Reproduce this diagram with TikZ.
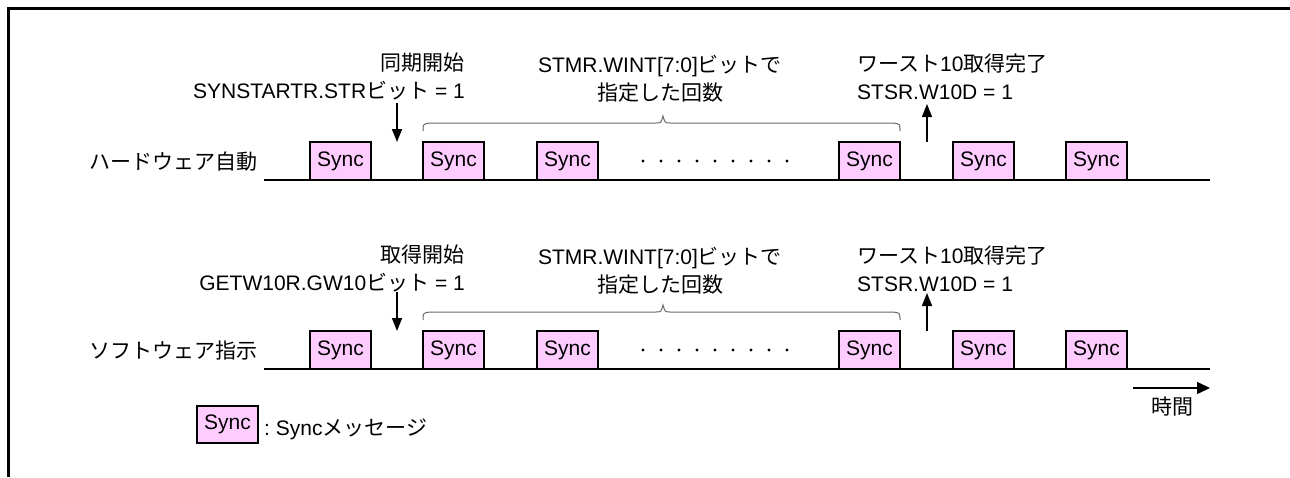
\documentclass[tikz,border=0pt]{standalone}
\usepackage{fontspec}
\setmainfont{Liberation Sans}
\newfontfamily\jp{Noto Sans CJK JP}
\usetikzlibrary{arrows.meta}
\definecolor{syncpink}{RGB}{255,204,255}
\definecolor{bracegray}{RGB}{105,105,105}
\begin{document}
\begin{tikzpicture}[x=1pt,y=-1pt,
  font=\fontsize{21}{24}\selectfont,
  syncbox/.style={draw=black,line width=1.6pt,fill=syncpink,minimum width=61pt,minimum height=38pt,inner sep=0pt,outer sep=0pt},
  tline/.style={line width=1.6pt},
  evarrow/.style={line width=1.5pt,-{Triangle[length=13pt,width=10pt]}},
  bracestyle/.style={draw=bracegray,line width=1pt},
  lbl/.style={inner sep=0pt}]
\useasboundingbox (0,0) rectangle (1290,477);
\fill[white] (0,0) rectangle (1290,477);
% frame
\draw[line width=3.4pt] (8.5,477) -- (8.5,8.5) -- (1290,8.5);

\foreach \r/\y/\t/\lab/\topa/\topb in {
  1/180/0/{\jp ハードウェア自動}/{\jp 同期開始}/{SYNSTARTR.STR{\jp ビット} = 1},
  2/369/3/{\jp ソフトウェア指示}/{\jp 取得開始}/{GETW10R.GW10{\jp ビット} = 1}}{
  % row label
  \node[lbl,anchor=base east] (lab\r) at (258,\y-11) {\lab};
  % baseline
  \coordinate (ls\r) at (264,\y);
  \coordinate (le\r) at (1210,\y);
  \draw[tline] (ls\r) -- (le\r);
  % sync boxes
  \foreach \i/\x in {1/310,2/423,3/537,4/839,5/953,6/1066}{
    \node[syncbox,anchor=south west] (s\r b\i) at (\x,\y) {Sync};
  }
  % dots
  \foreach \k in {0,...,8}{
    \fill (643+18*\k,\y-19) circle (1.7pt);
  }
  % start arrow
  \coordinate (sa\r) at (397,\y-77);
  \coordinate (sb\r) at (397,\y-38);
  \draw[evarrow] (sa\r) -- (sb\r);
  % end arrow
  \coordinate (ea\r) at (927,\y-38);
  \coordinate (eb\r) at (927,\y-76);
  \draw[evarrow] (ea\r) -- (eb\r);
  % brace
  \draw[bracestyle] (423,\y-49) .. controls (423,\y-56) .. (430,\y-57) -- (656,\y-57)
     .. controls (661,\y-57) .. (663,\y-64) .. controls (665,\y-57) .. (670,\y-57)
     -- (893,\y-57) .. controls (900,\y-56) .. (900,\y-49);
  % texts
  \node[lbl,anchor=base east] (ta\r) at (465,\y-110+\t) {\topa};
  \node[lbl,anchor=base east] (tb\r) at (465,\y-82+\t) {\topb};
  \node[lbl,anchor=base] (ma\r) at (660,\y-108+\t) {STMR.WINT[7:0]{\jp ビットで}};
  \node[lbl,anchor=base] (mb\r) at (660,\y-80+\t) {\jp 指定した回数};
  \node[lbl,anchor=base west] (wa\r) at (857,\y-109+\t) {{\jp ワースト}10{\jp 取得完了}};
  \node[lbl,anchor=base west] (wb\r) at (857,\y-81+\t) {STSR.W10D = 1};
}

% legend
\node[syncbox,minimum height=37pt] (leg) at (227.5,424.5) {Sync};
\node[lbl,anchor=base west] (legt) at (264,435) {:\ Sync{\jp メッセージ}};

% time arrow
\coordinate (ta) at (1133,388);
\coordinate (tb) at (1210,388);
\draw[line width=1.5pt,-{Triangle[length=13pt,width=12pt]}] (ta) -- (tb);
\node[lbl,anchor=base] (time) at (1172,414.5) {\jp 時間};
\end{tikzpicture}
\end{document}
